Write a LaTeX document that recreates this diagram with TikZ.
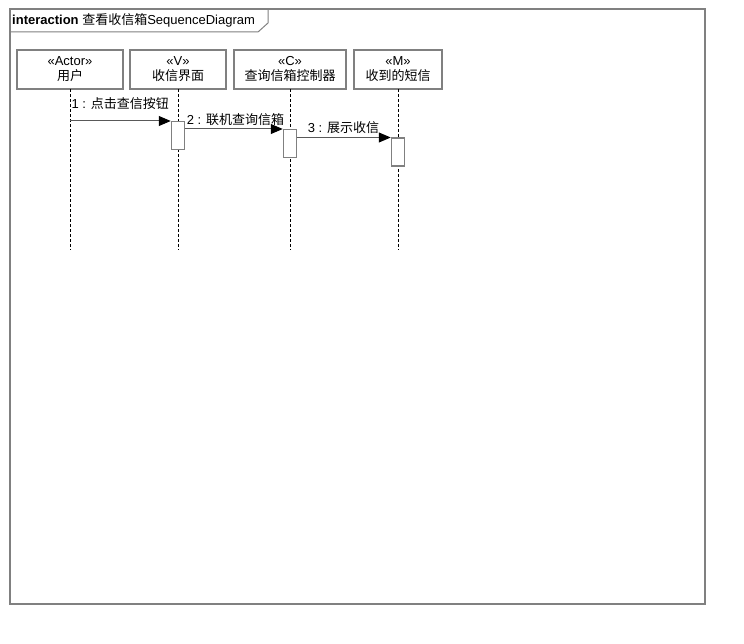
\documentclass[tikz,border=0pt]{standalone}
\usepackage{fontspec}
\setmainfont{Liberation Sans}
\newfontfamily\cjk{Noto Sans CJK SC}
\usetikzlibrary{arrows.meta, positioning}

\tikzset{
  lifebox/.style={draw=gray, line width=1.5pt, fill=white, align=center,
    minimum height=39pt, inner sep=1pt, outer sep=0pt, font=\fontsize{13}{15}\selectfont},
  lifeline/.style={densely dashed, black, line width=0.8pt},
  actbar/.style={draw=gray, line width=1.5pt, fill=white, minimum width=13pt,
    minimum height=28pt, inner sep=0pt},
  msg/.style={draw=black!65, line width=1pt,
    -{Triangle[length=12pt, width=10pt, color=black, fill=black]}},
  msglabel/.style={font=\fontsize{13}{15}\selectfont, inner sep=1pt}
}

\begin{document}
\begin{tikzpicture}[x=1pt, y=-1pt, >=Stealth]
    \useasboundingbox (0,0) rectangle (744,644);
    % frame
    \draw[gray, line width=1.5pt] (10,9) rectangle (705,604);
    \draw[gray, line width=1pt] (10,32) -- (258,32) -- (268,23) -- (268,9);
    \node[anchor=west, inner sep=0pt, font=\fontsize{13}{15}\selectfont] (title) at (12,20.5)
        {\textbf{interaction} {\cjk 查看收信箱}SequenceDiagram};
    % lifelines
    \node[lifebox, minimum width=106pt] (user) at (70,69.5) {«Actor»\\{\cjk 用户}};
    \node[lifebox, minimum width=96pt, right=7pt of user] (view) {«V»\\{\cjk 收信界面}};
    \node[lifebox, minimum width=112pt, right=8pt of view] (ctrl) {«C»\\{\cjk 查询信箱控制器}};
    \node[lifebox, minimum width=88pt, right=8pt of ctrl] (mail) {«M»\\{\cjk 收到的短信}};
    \foreach \n in {user, view, ctrl, mail} {
        \coordinate (\n end) at (\n.south |- 0,250);
        \draw[lifeline] (\n.south) -- (\n end);
    }
    % activations
    \node[actbar, anchor=north] (actv) at (view.south |- 0,121) {};
    \node[actbar, anchor=north] (actc) at (ctrl.south |- 0,129) {};
    \node[actbar, anchor=north] (actm) at (mail.south |- 0,137.5) {};
    % messages
    \draw[msg] (user.south |- actv.north) -- (actv.north west)
        node[msglabel, pos=0, anchor=south west, yshift=10pt] (m1) {1 : {\cjk 点击查信按钮}};
    \draw[msg] (actv.north east) ++(0,8) coordinate (s2) -- (actc.north west)
        node[msglabel, pos=0, anchor=south west, yshift=2pt] (m2) {2 : {\cjk 联机查询信箱}};
    \draw[msg] (actc.north east) ++(0,8.5) coordinate (s3) -- (actm.north west)
        node[msglabel, pos=0, anchor=south west, xshift=9pt, yshift=2pt] (m3) {3 : {\cjk 展示收信}};
\end{tikzpicture}
\end{document}
